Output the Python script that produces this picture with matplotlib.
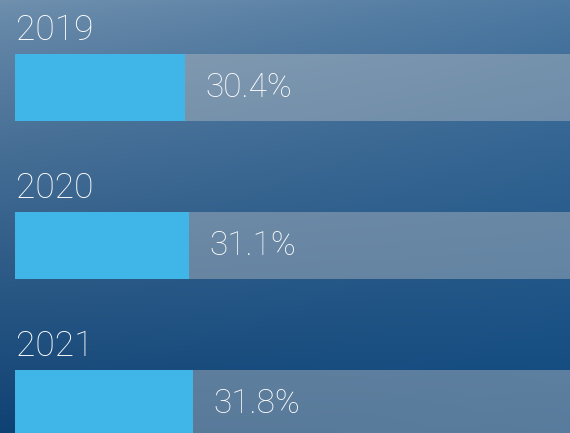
import numpy as np
import matplotlib.pyplot as plt
from matplotlib.colors import to_rgb

years = ['2019', '2020', '2021']
shares = [30.4, 31.1, 31.8]
labels = ['30.4%', '31.1%', '31.8%']
total = 100

plt.rcParams['font.family'] = ['Roboto', 'DejaVu Sans']

fig = plt.figure(figsize=(5.7, 4.33), dpi=100)

# background gradient (corner colours)
bg = fig.add_axes([0, 0, 1, 1])
bg.axis('off')
tl, tr = np.array(to_rgb('#7090ae')), np.array(to_rgb('#4f7aa2'))
bl, br = np.array(to_rgb('#0f4274')), np.array(to_rgb('#0e487e'))
u = np.linspace(0, 1, 200)[None, :, None]
v = np.linspace(0, 1, 200)[:, None, None]
v = v ** 0.8
img = (1 - v) * ((1 - u) * tl + u * tr) + v * ((1 - u) * bl + u * br)
bg.imshow(img, aspect='auto', extent=[0, 1, 0, 1], interpolation='bilinear')

ax = fig.add_axes([15 / 570, 0, 555 / 570, 1])
ax.patch.set_alpha(0)
ax.axis('off')

pos = np.arange(len(years))
ax.barh(pos, [total] * len(years), height=0.424, color='#b4bcc4', alpha=0.45, lw=0)
ax.barh(pos, shares, height=0.424, color='#40b5e7', lw=0)

for i, (y, s, lab) in enumerate(zip(years, shares, labels)):
    ax.text(0.1, i - 0.30, y, color='white', fontsize=25.5, fontweight='light',
            va='baseline', ha='left')
    ax.text(s + 3.6, i + 0.06, lab, color='white', fontsize=24, fontweight='light',
            va='baseline', ha='left')

ax.set_xlim(0, 555 / 559 * 100)
ax.set_ylim(2.187, -0.554)

fig.savefig('out.png', dpi=100)
